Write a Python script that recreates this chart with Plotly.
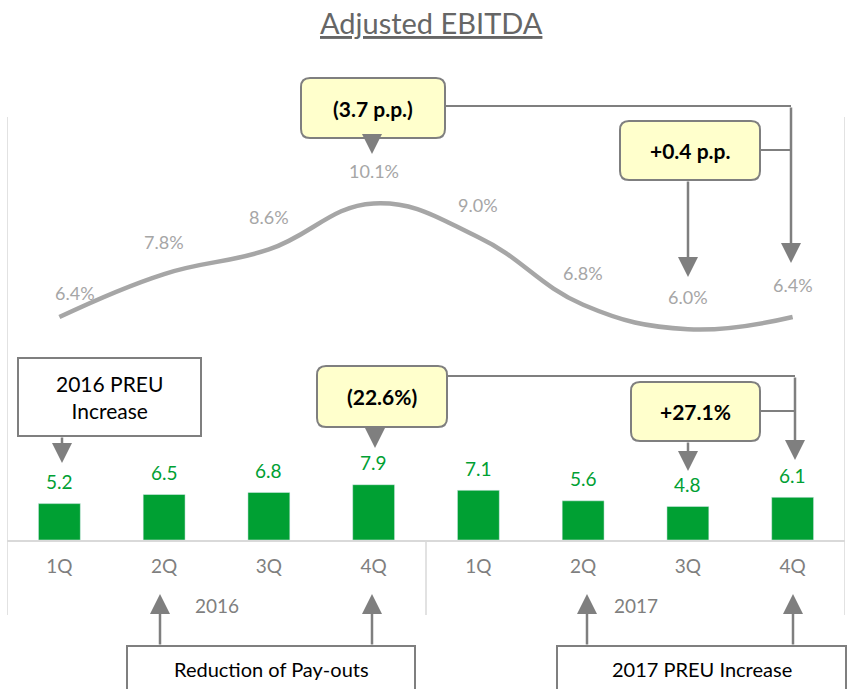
import plotly.graph_objects as go

quarters = ["1Q", "2Q", "3Q", "4Q", "1Q", "2Q", "3Q", "4Q"]
years = ["2016", "2017"]
ebitda = [5.2, 6.5, 6.8, 7.9, 7.1, 5.6, 4.8, 6.1]
margin = [6.4, 7.8, 8.6, 10.1, 9.0, 6.8, 6.0, 6.4]

W, H = 850, 689
FONT = "Lato"
GREEN = "#00a033"
LGREY = "#a6a6a6"
DGREY = "#7f7f7f"
YELLOW = "#ffffcc"

xs = list(range(len(quarters)))

def px(x):
    return x / W

def py(y):
    return 1 - y / H

fig = go.Figure()
fig.add_trace(go.Bar(x=xs, y=ebitda, marker_color=GREEN, width=0.4,
                     xaxis="x", yaxis="y", showlegend=False, hoverinfo="skip"))
fig.add_trace(go.Scatter(x=xs, y=margin, mode="lines", line=dict(color=LGREY, width=4.5, shape="spline", smoothing=1.2),
                         xaxis="x", yaxis="y2", showlegend=False, hoverinfo="skip"))

ann = []
C = dict(xanchor="center", yanchor="middle")
# bar labels
for i, v in enumerate(ebitda):
    ann.append(dict(x=i, y=v, xref="x", yref="y", text=f"{v:.1f}", showarrow=False, yshift=22, **C,
                    font=dict(family=FONT, size=19, color=GREEN)))
# margin labels
for i, v in enumerate(margin):
    ann.append(dict(x=i, y=v, xref="x", yref="y2", text=f"{v:.1f}%", showarrow=False, **C,
                    yshift=24 if i == 0 else 32, xshift=16 if i == 0 else 0,
                    font=dict(family=FONT, size=18, color=LGREY)))
# years
for k, yr in enumerate(years):
    ann.append(dict(x=1.5 + 4 * k, y=py(605), xref="x", yref="paper", text=yr, showarrow=False, **C,
                    font=dict(family=FONT, size=19, color=DGREY)))
# title
ann.append(dict(x=px(432), y=py(22), xref="paper", yref="paper", text="<u>Adjusted EBITDA</u>", showarrow=False, **C,
                font=dict(family=FONT, size=29, color="#666666")))

shapes = []

def rrect(x0, y0, x1, y1, fill, r=9):
    rx, ry = r / W, r / H
    X0, X1, Y0, Y1 = px(x0), px(x1), py(y0), py(y1)
    path = (f"M {X0+rx},{Y0} L {X1-rx},{Y0} Q {X1},{Y0} {X1},{Y0-ry} L {X1},{Y1+ry} Q {X1},{Y1} {X1-rx},{Y1} "
            f"L {X0+rx},{Y1} Q {X0},{Y1} {X0},{Y1+ry} L {X0},{Y0-ry} Q {X0},{Y0} {X0+rx},{Y0} Z")
    shapes.append(dict(type="path", path=path, xref="paper", yref="paper", fillcolor=fill,
                       line=dict(color=DGREY, width=2)))

def box(x0, y0, x1, y1, text, fill, rounded, size, bold, ty=None):
    if rounded:
        rrect(x0, y0, x1, y1, fill)
    else:
        shapes.append(dict(type="rect", x0=px(x0), x1=px(x1), y0=py(y0), y1=py(y1), xref="paper", yref="paper",
                           fillcolor=fill, line=dict(color=DGREY, width=2)))
    t = f"<b>{text}</b>" if bold else text
    cy = (y0 + y1) / 2 if ty is None else ty
    ann.append(dict(x=px((x0 + x1) / 2), y=py(cy), xref="paper", yref="paper", text=t, showarrow=False, **C,
                    font=dict(family=FONT, size=size, color="#000000")))

def seg(x0, y0, x1, y1):
    shapes.append(dict(type="line", x0=px(x0), x1=px(x1), y0=py(y0), y1=py(y1), xref="paper", yref="paper",
                       line=dict(color=DGREY, width=2)))

def arrow(x, ytail, ytip):
    ann.append(dict(x=px(x), y=py(ytip), xref="paper", yref="paper", ax=0, ay=ytail - ytip, axref="pixel", ayref="pixel",
                    text="", showarrow=True, arrowhead=2, arrowsize=1.6, arrowwidth=2.5, arrowcolor=DGREY, standoff=0))

# top callouts (margin)
box(301, 78, 445, 138, "(3.7 p.p.)", YELLOW, True, 21, True)
arrow(372, 138, 154)
seg(445, 106, 791, 106)
arrow(791, 106, 263)
box(620, 121, 760, 180, "+0.4 p.p.", YELLOW, True, 21, True)
arrow(688, 180, 277)
seg(760, 150, 791, 150)

# bar callouts
box(18, 358, 201, 436, "2016 PREU<br>Increase", "white", False, 21, False)
arrow(62, 436, 463)
box(317, 366, 447, 427, "(22.6%)", YELLOW, True, 21, True)
arrow(375, 427, 448)
seg(447, 376, 795, 376)
arrow(795, 376, 460)
box(631, 382, 760, 441, "+27.1%", YELLOW, True, 21, True)
arrow(688, 441, 471)
seg(760, 411, 795, 411)

# bottom callouts
box(127, 646, 415, 700, "Reduction of Pay-outs", "white", False, 20, False, ty=669)
box(557, 646, 846, 700, "2017 PREU Increase", "white", False, 20, False, ty=669)
for x in (160, 372, 587, 793):
    arrow(x, 646, 594)

# frame lines
for xv, y0 in ((-0.5, 117), (7.5, 117), (3.5, 540)):
    shapes.append(dict(type="line", x0=xv, x1=xv, y0=py(y0), y1=py(615), xref="x", yref="paper",
                       line=dict(color="#d9d9d9", width=1.5)))

# line axis: 6.4 at y=317px, 30.7 px per unit, domain 120..350 px
lo = 6.4 - (350 - 317) / 30.7
hi = lo + 230 / 30.7

fig.update_layout(
    width=W, height=H, margin=dict(l=0, r=0, t=0, b=0),
    paper_bgcolor="white", plot_bgcolor="white",
    xaxis=dict(range=[-0.5, 7.5], domain=[7 / W, 845 / W], tickvals=xs, ticktext=quarters,
               showgrid=False, zeroline=False, showline=True, linecolor="#d9d9d9", linewidth=1.5,
               anchor="y", ticks="", ticklabelstandoff=8,
               tickfont=dict(family=FONT, size=19, color=DGREY)),
    yaxis=dict(range=[0, 20], domain=[py(540), py(400)], visible=False),
    yaxis2=dict(range=[lo, hi], domain=[py(350), py(120)], visible=False, anchor="x"),
    annotations=ann, shapes=shapes,
)

fig.write_html("out.html", config={"displayModeBar": False}, post_script="document.body.style.margin='0';")
